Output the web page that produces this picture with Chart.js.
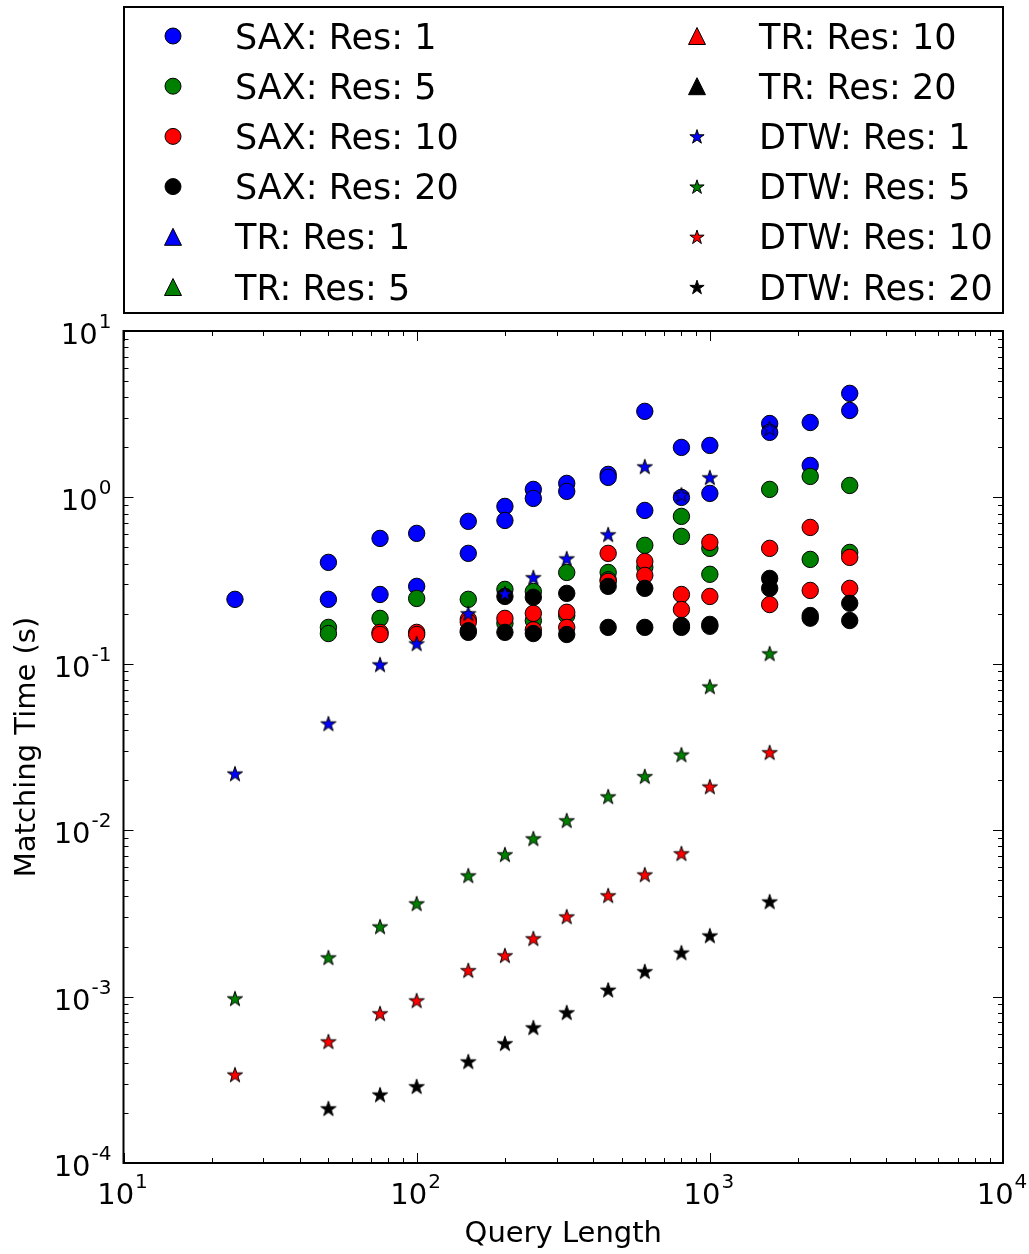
<!DOCTYPE html>
<html>
<head>
<meta charset="utf-8">
<script src="https://cdn.jsdelivr.net/npm/chart.js@4.4.1/dist/chart.umd.min.js"></script>
<style>
  html, body { margin: 0; padding: 0; background: #fff; }
  #wrap { position: relative; width: 1029px; height: 1254px; }
</style>
</head>
<body>
<div id="wrap"><canvas id="chart"></canvas></div>
<script>
// query lengths shared by every series (x axis)
const queryLengths = [24, 50, 75, 100, 150, 200, 250, 325, 450, 600, 800, 1000, 1600, 2200, 3000];

// SAX: two runs per length (upper / lower point), null where hidden or missing
const sax1Hi  = [0.244, 0.407, 0.567, 0.608, 0.718, 0.883, 1.117, 1.214, 1.375, 3.29, 1.997, 2.053, 2.78, 2.82, 4.22];
const sax1Lo  = [null, 0.244, 0.261, 0.292, 0.461, 0.727, 0.986, 1.087, 1.319, 0.835, 1.0, 1.057, 2.46, 1.557, 3.33];
const sax5Hi  = [null, 0.1655, 0.1875, 0.247, 0.244, 0.280, 0.272, 0.354, 0.354, 0.515, 0.769, 0.494, 1.117, 1.337, 1.18];
const sax5Lo  = [null, 0.152, null, null, null, 0.175, 0.182, 0.195, 0.32, 0.38, 0.583, 0.345, null, 0.424, 0.467];
const sax10Hi = [null, null, 0.1545, 0.1545, 0.185, 0.1875, 0.201, 0.204, 0.461, 0.412, 0.261, 0.537, 0.494, 0.66, 0.436];
const sax10Lo = [null, null, 0.150, 0.150, 0.178, null, 0.16, 0.1655, 0.313, 0.34, 0.212, 0.254, 0.227, 0.276, 0.284];
const sax20Hi = [null, null, null, null, 0.158, 0.254, 0.251, 0.265, 0.292, 0.284, 0.170, 0.1725, 0.326, 0.195, 0.231];
const sax20Lo = [null, null, null, null, 0.1545, 0.1545, 0.152, 0.150, 0.1655, 0.1655, 0.1655, 0.168, 0.284, 0.188, 0.182];

// DTW
const dtw1  = [0.0219, 0.0438, 0.0992, 0.1326, 0.201, 0.265, 0.331, 0.43, 0.600, 1.535, 1.04, 1.32, 2.6, null, null];
const dtw5  = [0.000975, 0.00172, 0.00264, 0.00363, 0.00535, 0.00716, 0.00893, 0.01146, 0.01596, 0.0211, 0.0285, 0.0731, 0.1155, null, null];
const dtw10 = [0.00034, 0.000538, 0.000793, 0.000949, 0.00144, 0.00177, 0.00224, 0.00303, 0.00406, 0.00542, 0.00726, 0.0183, 0.0294, null, null];
const dtw20 = [null, 0.000213, 0.000258, 0.000289, 0.000408, 0.000524, 0.000653, 0.000804, 0.0011, 0.00142, 0.00184, 0.00233, 0.00373, null, null];

// TR series only show up in the legend
const tr1 = [], tr5 = [], tr10 = [], tr20 = [];

// decade exponents used for the tick labels
const xDecades = [1, 2, 3, 4];
const yDecades = [-4, -3, -2, -1, 0, 1];

const FONT = '"DejaVu Sans", "Bitstream Vera Sans", sans-serif';
const BLUE = "#0000ff", GREEN = "#008000", RED = "#ff0000", BLACK = "#000000";

function pts(...cols) {
  const out = [];
  cols.forEach(col => col.forEach((y, i) => { if (y != null) out.push({ x: queryLengths[i], y }); }));
  return out;
}

function starPath(g, cx, cy, r) {
  const inner = r * 0.381966;
  g.beginPath();
  for (let i = 0; i < 10; i++) {
    const rad = i % 2 ? inner : r;
    const a = -Math.PI / 2 + i * Math.PI / 5;
    const px = cx + rad * Math.cos(a), py = cy + rad * Math.sin(a);
    if (i) g.lineTo(px, py); else g.moveTo(px, py);
  }
  g.closePath();
}

function starImage(color, r) {
  const size = Math.ceil(r * 2 + 4);
  const c = document.createElement("canvas");
  c.width = size; c.height = size;
  const g = c.getContext("2d");
  starPath(g, size / 2, size / 2 + r * 0.1, r);
  g.fillStyle = color; g.fill();
  g.lineWidth = 1; g.strokeStyle = "#000"; g.stroke();
  return c;
}

const series = [
  { label: "SAX: Res: 1",  color: BLUE,  shape: "circle",   data: pts(sax1Hi, sax1Lo) },
  { label: "SAX: Res: 5",  color: GREEN, shape: "circle",   data: pts(sax5Hi, sax5Lo) },
  { label: "SAX: Res: 10", color: RED,   shape: "circle",   data: pts(sax10Hi, sax10Lo) },
  { label: "SAX: Res: 20", color: BLACK, shape: "circle",   data: pts(sax20Hi, sax20Lo) },
  { label: "TR: Res: 1",   color: BLUE,  shape: "triangle", data: pts(tr1) },
  { label: "TR: Res: 5",   color: GREEN, shape: "triangle", data: pts(tr5) },
  { label: "TR: Res: 10",  color: RED,   shape: "triangle", data: pts(tr10) },
  { label: "TR: Res: 20",  color: BLACK, shape: "triangle", data: pts(tr20) },
  { label: "DTW: Res: 1",  color: BLUE,  shape: "star",     data: pts(dtw1) },
  { label: "DTW: Res: 5",  color: GREEN, shape: "star",     data: pts(dtw5) },
  { label: "DTW: Res: 10", color: RED,   shape: "star",     data: pts(dtw10) },
  { label: "DTW: Res: 20", color: BLACK, shape: "star",     data: pts(dtw20) },
];

const datasets = series.map((s, i) => ({
  label: s.label,
  data: s.data,
  shape: s.shape,
  markerColor: s.color,
  order: -i, // later series drawn on top, like matplotlib
  backgroundColor: s.color,
  borderColor: "#000",
  borderWidth: 1,
  pointStyle: s.shape === "star" ? starImage(s.color, 8) : s.shape,
  pointRadius: s.shape === "circle" ? 8.2 : 8,
  pointHoverRadius: s.shape === "circle" ? 8.2 : 8,
}));

function drawPow(ctx, exp, x, y, align) {
  ctx.font = `29px ${FONT}`;
  const wb = ctx.measureText("10").width;
  ctx.font = `20px ${FONT}`;
  const we = ctx.measureText(String(exp)).width;
  const total = wb + 1 + we;
  const left = align === "center" ? x - total / 2 : x - total;
  ctx.textAlign = "left";
  ctx.textBaseline = "alphabetic";
  ctx.font = `29px ${FONT}`;
  ctx.fillText("10", left, y);
  ctx.font = `20px ${FONT}`;
  ctx.fillText(String(exp), left + wb + 1, y - 16);
}

function drawMarker(ctx, shape, color, x, y) {
  ctx.fillStyle = color;
  ctx.strokeStyle = "#000";
  ctx.lineWidth = 1;
  ctx.beginPath();
  if (shape === "circle") {
    ctx.arc(x, y, 8, 0, Math.PI * 2);
  } else if (shape === "triangle") {
    ctx.moveTo(x, y - 8.5);
    ctx.lineTo(x - 8.5, y + 8.5);
    ctx.lineTo(x + 8.5, y + 8.5);
    ctx.closePath();
  } else {
    starPath(ctx, x, y + 0.7, 7.5);
  }
  ctx.fill();
  ctx.stroke();
}

const frameAndTicks = {
  id: "frameAndTicks",
  afterDraw(chart) {
    const { ctx, chartArea: a, scales } = chart;
    const xs = scales.x, ys = scales.y;
    ctx.save();
    ctx.strokeStyle = "#000";
    ctx.lineWidth = 1;
    // minor + major ticks, pointing inward on all four sides
    for (let e = xDecades[0]; e <= xDecades[xDecades.length - 1]; e++) {
      for (let k = 1; k <= 9; k++) {
        const v = k * Math.pow(10, e);
        if (v > xs.max + 1e-9) break;
        const px = Math.round(xs.getPixelForValue(v)) + 0.5;
        const len = k === 1 ? 10 : 5;
        ctx.beginPath();
        ctx.moveTo(px, a.bottom); ctx.lineTo(px, a.bottom - len);
        ctx.moveTo(px, a.top); ctx.lineTo(px, a.top + len);
        ctx.stroke();
      }
    }
    for (let e = yDecades[0]; e <= yDecades[yDecades.length - 1]; e++) {
      for (let k = 1; k <= 9; k++) {
        const v = k * Math.pow(10, e);
        if (v > ys.max * 1.000001) break;
        const py = Math.round(ys.getPixelForValue(v)) + 0.5;
        const len = k === 1 ? 10 : 5;
        ctx.beginPath();
        ctx.moveTo(a.left, py); ctx.lineTo(a.left + len, py);
        ctx.moveTo(a.right, py); ctx.lineTo(a.right - len, py);
        ctx.stroke();
      }
    }
    // frame
    ctx.lineWidth = 2;
    ctx.strokeRect(a.left, a.top, a.right - a.left, a.bottom - a.top);

    // tick labels
    ctx.fillStyle = "#000";
    xDecades.forEach(e => drawPow(ctx, e, xs.getPixelForValue(Math.pow(10, e)) - 1, a.bottom + 41, "center"));
    yDecades.forEach(e => drawPow(ctx, e, a.left - 12, ys.getPixelForValue(Math.pow(10, e)) + 13, "right"));

    // legend box, two columns filled top to bottom
    ctx.lineWidth = 2;
    ctx.strokeRect(124, 7, 879, 306);
    ctx.font = `35px ${FONT}`;
    ctx.textAlign = "left";
    ctx.textBaseline = "alphabetic";
    chart.data.datasets.forEach((ds, i) => {
      const col = Math.floor(i / 6), row = i % 6;
      const mx = col ? 697 : 173;
      const my = 36 + row * 50.2;
      drawMarker(ctx, ds.shape, ds.markerColor, mx, my);
      ctx.fillStyle = "#000";
      ctx.fillText(ds.label, col ? 759 : 235, my + 12.5);
    });
    ctx.restore();
  },
};

new Chart(document.getElementById("chart"), {
  type: "scatter",
  data: { datasets },
  options: {
    responsive: true,
    maintainAspectRatio: false,
    animation: false,
    layout: { padding: { top: 331, right: 26, bottom: 0, left: 0 } },
    plugins: {
      legend: { display: false },
      tooltip: { enabled: false },
    },
    scales: {
      x: {
        type: "logarithmic",
        min: 10,
        max: 10000,
        grid: { display: false },
        border: { display: false },
        ticks: { display: false },
        title: {
          display: true,
          text: "Query Length",
          color: "#000",
          font: { family: FONT, size: 29 },
          padding: { top: 0, bottom: 2 },
        },
        afterFit: s => { s.height = 91; },
      },
      y: {
        type: "logarithmic",
        min: 0.0001,
        max: 10,
        grid: { display: false },
        border: { display: false },
        ticks: { display: false },
        title: {
          display: true,
          text: "Matching Time (s)",
          color: "#000",
          font: { family: FONT, size: 29 },
          padding: { top: 10, bottom: 0 },
        },
        afterFit: s => { s.width = 123.5; },
      },
    },
  },
  plugins: [frameAndTicks],
});
</script>
</body>
</html>
